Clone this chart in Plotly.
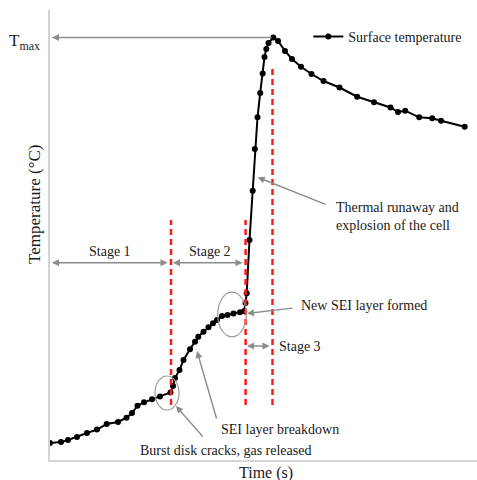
import plotly.graph_objects as go

# Time (arbitrary units) and surface temperature (arbitrary units)
time_s = [0, 11, 18, 27, 37, 47, 56.7, 68, 76.5, 82, 87.5, 94, 102, 110, 120.5,
          123, 125, 129.5, 133.5, 140, 145, 148.3, 153.5, 158.5, 163, 167, 172,
          177.5, 183.5, 190, 194.3, 195.5, 196.7, 199.5, 202.7, 204.8, 207.5,
          210.2, 212.7, 214.5, 216.3, 218.5, 223.3, 228, 235, 242, 251, 261.5,
          273.5, 289.5, 307.2, 324, 340.5, 348, 355.2, 369.2, 382.2, 391, 414.7]
temperature = [17, 18, 20, 23, 27, 30.5, 36, 38, 42.3, 47, 54.3, 57.7, 60.7, 63.5, 67.5,
               74, 82, 90, 100, 110.7, 118.3, 123.3, 128.3, 132.7, 136.7, 140, 144,
               145, 146.5, 147.7, 149, 157, 166.7, 220, 269.3, 311, 342.7,
               367, 386.5, 403, 411, 417, 422.5, 419, 409, 401, 393.3, 386,
               379, 372.5, 363.3, 357.7, 352.5, 348, 349.3, 342.7, 341.7, 339.3, 333.3]

series_name = "Surface temperature"
stage_bounds = [121, 195.6, 222.5]   # red dashed lines (time)
t_max = max(temperature)

FONT = "Liberation Serif, Times New Roman, serif"
GRAY = "#8c8c8c"
RED = "#ff1a1a"
TXT = "#1a1a1a"

fig = go.Figure()
fig.add_trace(go.Scatter(
    x=time_s, y=temperature, mode="lines+markers", name=series_name,
    line=dict(color="black", width=2),
    marker=dict(color="black", size=6),
))

shapes = []
# red dashed stage boundaries
for xb, ytop in zip(stage_bounds, [240, 240, 395]):
    shapes.append(dict(type="line", x0=xb, x1=xb, y0=55, y1=ytop,
                       xref="x", yref="y",
                       line=dict(color=RED, width=2.5, dash="6px,4px")))
# ellipses
shapes.append(dict(type="circle", x0=105, x1=129, y0=50, y1=84, xref="x", yref="y",
                   line=dict(color="#9a9a9a", width=1.2)))
shapes.append(dict(type="circle", x0=167.7, x1=196.3, y0=123.2, y1=167.8, xref="x", yref="y",
                   line=dict(color="#9a9a9a", width=1.2)))

ann = []

def arrow(x, y, ax, ay, both=False):
    ann.append(dict(x=x, y=y, ax=ax, ay=ay, xref="x", yref="y", axref="x", ayref="y",
                    text="", showarrow=True, arrowhead=2, arrowsize=1, arrowwidth=1.4,
                    arrowcolor=GRAY, arrowside="end+start" if both else "end",
                    startarrowhead=2, startarrowsize=1))

def label(x, y, text, xanchor="center", size=14, angle=0, ref="x"):
    ann.append(dict(x=x, y=y, xref="x" if ref == "x" else "paper",
                    yref="y" if ref == "x" else "paper", text=text, showarrow=False,
                    xanchor=xanchor, yanchor="middle", align="left", textangle=angle,
                    font=dict(family=FONT, size=size, color=TXT)))

# T max arrow
arrow(2, t_max, 223, t_max)
# stage arrows
arrow(2, 197.3, 119, 197.3, both=True)
arrow(123, 197.3, 194, 197.3, both=True)
arrow(197, 114, 221, 114, both=True)
# callout arrows
arrow(207.7, 282.7, 277, 255)
arrow(197, 146.5, 244, 152)
arrow(147, 109, 167, 40)
arrow(126, 54, 154, 22)

label(60, 209, "Stage 1")
label(160, 209, "Stage 2")
label(227, 113.3, "Stage 3", xanchor="left")
label(284, 244, "Thermal runaway and<br>explosion of the cell", xanchor="left")
label(248.7, 154.3, "New SEI layer formed", xanchor="left")
label(169, 31, "SEI layer breakdown", xanchor="left")
label(88, 10, "Burst disk cracks, gas released", xanchor="left")
label(0.507, -0.028, "Time (s)", size=16, ref="paper")
label(-0.035, 0.567, "Temperature (°C)", size=17, angle=-90, ref="paper")
label(-0.019, 0.928, "T<sub>max</sub>", xanchor="right", size=17, ref="paper")

fig.update_layout(
    width=477, height=480,
    margin=dict(l=50, r=0, t=10, b=20),
    paper_bgcolor="white", plot_bgcolor="white",
    font=dict(family=FONT, size=14, color=TXT),
    showlegend=True,
    legend=dict(x=0.605, y=0.94, xanchor="left", yanchor="middle",
                bgcolor="rgba(0,0,0,0)", font=dict(family=FONT, size=14, color=TXT)),
    xaxis=dict(range=[0, 427], showgrid=False, zeroline=False, showticklabels=False,
               ticks="", showline=True, linecolor="#d4d4d4", linewidth=2),
    yaxis=dict(range=[0, 450], showgrid=False, zeroline=False, showticklabels=False,
               ticks="", showline=True, linecolor="#d4d4d4", linewidth=2),
    shapes=shapes,
    annotations=ann,
)

fig.write_html("out.html")
